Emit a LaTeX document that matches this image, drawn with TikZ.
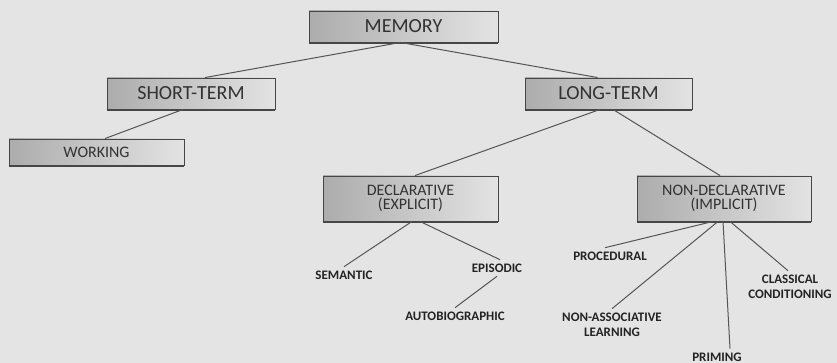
\documentclass[tikz,border=0pt]{standalone}
\usepackage{fontspec}
\setmainfont{Carlito}
\definecolor{paper}{RGB}{228,228,228}
\definecolor{boxline}{RGB}{70,70,70}
\definecolor{boxtext}{RGB}{50,50,50}
\definecolor{lbltext}{RGB}{35,35,35}
\definecolor{conncol}{RGB}{85,85,85}
\begin{document}
\begin{tikzpicture}[x=1pt,y=-1pt,
  box/.style={draw=boxline, line width=0.9pt, left color=gray!65, right color=gray!22,
    text=boxtext, inner sep=0pt, align=center},
  bigbox/.style={box, font=\fontsize{20}{22}\selectfont, minimum height=31pt},
  midbox/.style={box, font=\fontsize{16}{14.5}\selectfont},
  lbl/.style={font=\fontsize{13}{15}\selectfont\bfseries, text=lbltext, inner sep=2pt, outer sep=2pt, align=center},
  conn/.style={draw=conncol, line width=1pt}]
\fill[paper] (0,0) rectangle (837,363);
\useasboundingbox (0,0) rectangle (837,363);

% boxes
\node[bigbox, minimum width=189pt] (mem) at (403.5,26.5) {MEMORY};
\node[bigbox, minimum width=168pt] (short) at (191,93.5) {SHORT-TERM};
\node[bigbox, minimum width=167pt] (long) at (608.5,93.5) {LONG-TERM};
\node[midbox, minimum width=175pt, minimum height=26pt] (work) at (96.5,152) {WORKING};
\node[midbox, minimum width=175pt, minimum height=45pt] (decl) at (410.5,198.5) {DECLARATIVE\\(EXPLICIT)};
\node[midbox, minimum width=174pt, minimum height=45pt] (nond) at (724,198.5) {NON-DECLARATIVE\\(IMPLICIT)};

% bottom shadow edges
\foreach \n in {mem,short,long,work,decl,nond}
  \draw[boxline, line width=1.6pt] ([yshift=-0.6pt]\n.south west) -- ([yshift=-0.6pt]\n.south east);

% labels
\node[lbl] (sem) at (344,275) {SEMANTIC};
\node[lbl] (epi) at (497,268) {EPISODIC};
\node[lbl] (auto) at (455,316) {AUTOBIOGRAPHIC};
\node[lbl] (proc) at (610,256) {PROCEDURAL};
\node[lbl] (nonas) at (612,324.5) {NON-ASSOCIATIVE\\LEARNING};
\node[lbl] (clas) at (790,286.5) {CLASSICAL\\CONDITIONING};
\node[lbl] (prim) at (717,357) {PRIMING};

% connectors
\draw[conn] ([xshift=-3pt]mem.south) -- ([xshift=14pt]short.north);
\draw[conn] ([xshift=-3pt]mem.south) -- ([xshift=-11pt]long.north);
\draw[conn] ([xshift=-8pt]short.south) -- ([xshift=8.5pt]work.north);
\draw[conn] ([xshift=-8.5pt]long.south) -- ([xshift=4.5pt]decl.north);
\draw[conn] ([xshift=4.5pt]long.south) -- ([xshift=-4pt]nond.north);
\draw[conn] ([xshift=1.5pt]decl.south) -- (sem.north);
\draw[conn] ([xshift=9.5pt]decl.south) -- ([xshift=3pt]epi.north);
\draw[conn] (epi.south) -- (auto.north);
\draw[conn] ([xshift=-11pt]nond.south) -- ([xshift=-5pt]proc.north);
\draw[conn] ([xshift=-6pt]nond.south) -- (nonas.north);
\draw[conn] ([xshift=-1pt]nond.south) -- ([xshift=13pt]prim.north);
\draw[conn] ([xshift=6pt]nond.south) -- ([xshift=-2pt]clas.north);
\end{tikzpicture}
\end{document}
